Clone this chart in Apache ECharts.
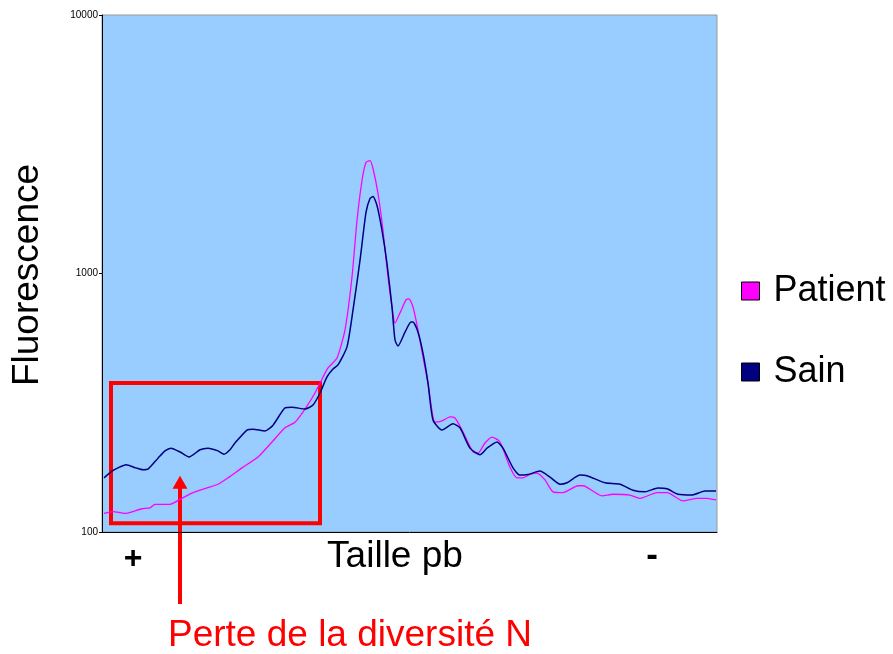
<!DOCTYPE html>
<html>
<head>
<meta charset="utf-8">
<script src="https://cdn.jsdelivr.net/npm/echarts@6/dist/echarts.min.js"></script>
<style>
  html, body { margin: 0; padding: 0; background: #fff; }
  #chart { width: 893px; height: 654px; }
</style>
</head>
<body>
<div id="chart"></div>
<script>
// Position along the size axis (arbitrary units, large fragments on the left)
const sainX = [1, 5, 8, 12, 17, 20.5, 23, 28, 31.5, 34.5, 39, 43.5, 49, 53, 58, 61, 64, 66.5, 72.5, 75.5,
  81.5, 85.5, 91.5, 95, 101.5, 105.5, 109, 112.5, 115.5, 118, 122.5, 125.5, 129, 132, 134, 135.5, 137.5, 140,
  142.5, 145, 146.5, 148, 151.5, 154.5, 155.5, 158, 160.5, 163, 165.5, 170, 175.5, 179, 184, 189, 192.5,
  197.5, 200.5, 205.5, 209, 213, 219, 224, 229, 232.5, 239, 242.5, 251.5, 259, 265.5, 271.5, 278, 282.5,
  288, 295, 301.5, 307];
// Fluorescence, healthy control
const sainY = [162, 172, 177, 182, 177, 174, 175, 193, 206, 211, 204, 195, 208, 211, 206, 200, 208, 221, 248, 250,
  246, 259, 302, 304, 299, 310, 345, 398, 427, 443, 520, 722, 1123, 1722, 1950, 1986, 1833, 1467,
  1093, 742, 553, 524, 593, 649, 649, 593, 492, 377, 271, 248, 262, 253, 211, 199, 211,
  223, 211, 177, 166, 167, 172, 163, 153, 155, 166, 165, 155, 153, 145, 143, 148, 147,
  140, 139, 144, 144];

const patientX = [1, 5.5, 11.5, 15.5, 20, 24, 26.5, 34, 40, 45.5, 52.5, 58, 63, 70, 78, 85, 91.5, 96.5, 101.5,
  106.5, 109, 113, 117.5, 121.5, 125, 127.5, 130, 132, 134, 135.5, 138, 140.5, 143, 145, 146.5, 149, 152,
  153.5, 155.5, 158, 160.5, 163, 166.5, 170, 174, 176.5, 180, 185.5, 188, 191.5, 195, 199, 204, 207.5,
  210.5, 214, 217.5, 221.5, 225.5, 230.5, 238, 240.5, 250, 255.5, 264, 269, 277.5, 282.5, 290.5, 297.5,
  302.5, 307];
// Fluorescence, patient
const patientY = [118, 120, 118, 120, 123, 124, 128, 128, 135, 142, 148, 153, 162, 177, 195, 223, 253, 266, 299,
  345, 377, 431, 471, 605, 969, 1603, 2290, 2688, 2735, 2548, 2039, 1467, 969, 742, 643, 704, 790,
  797, 742, 605, 475, 377, 266, 269, 279, 276, 248, 204, 202, 221, 233, 223, 178, 162,
  162, 167, 169, 159, 143, 142, 151, 151, 138, 140, 139, 135, 142, 142, 132, 135,
  135, 133];

// Fluorescence axis ticks
const yTicks = [100, 1000, 10000];

// Highlighted region of lost N diversity (x range, fluorescence range)
const boxX = [4.5, 109];
const boxY = [108, 377];
// Arrow pointing into the highlighted region
const arrowX = 39;
const arrowTipY = 165;

const FONT = 'Liberation Sans, Arial, sans-serif';

const pairs = (xs, ys) => xs.map((x, i) => [x, ys[i]]);

const chart = echarts.init(document.getElementById('chart'), null, { renderer: 'canvas' });

chart.setOption({
  animation: false,
  backgroundColor: '#ffffff',
  grid: {
    left: 102, top: 15, right: 176, bottom: 122,
    show: true, backgroundColor: '#99CCFF', borderColor: '#999999', borderWidth: 1
  },
  legend: {
    orient: 'vertical', left: 736, top: 268,
    itemWidth: 18, itemHeight: 18, itemGap: 45,
    icon: 'rect',
    itemStyle: { borderColor: '#000', borderWidth: 1 },
    textStyle: { fontSize: 36, fontFamily: FONT, color: '#000', lineHeight: 36, padding: [0, 0, 0, 9] },
    data: ['Patient', 'Sain']
  },
  xAxis: {
    type: 'value', min: 0, max: 307.5,
    axisLine: { show: true, lineStyle: { color: '#000', width: 1 } },
    axisTick: { show: false }, axisLabel: { show: false }, splitLine: { show: false }
  },
  yAxis: {
    type: 'log', logBase: 10, min: yTicks[0], max: yTicks[yTicks.length - 1],
    axisLine: { show: true, lineStyle: { color: '#000', width: 1 } },
    axisTick: { show: true, length: 3, lineStyle: { color: '#000' } },
    axisLabel: { fontSize: 10, fontFamily: FONT, color: '#000', margin: 4, formatter: v => String(Math.round(v)) },
    splitLine: { show: false }, minorTick: { show: false }
  },
  series: [
    {
      name: 'Patient', type: 'line', data: pairs(patientX, patientY),
      symbol: 'none', smooth: 0.2,
      itemStyle: { color: '#FF00FF' },
      lineStyle: { color: '#FF00FF', width: 1.3 },
      markArea: {
        silent: true,
        itemStyle: { color: 'rgba(0,0,0,0)', borderColor: '#FF0000', borderWidth: 4 },
        data: [[{ coord: [boxX[0], boxY[1]] }, { coord: [boxX[1], boxY[0]] }]]
      }
    },
    {
      name: 'Sain', type: 'line', data: pairs(sainX, sainY),
      symbol: 'none', smooth: 0.2,
      itemStyle: { color: '#000080' },
      lineStyle: { color: '#000080', width: 1.5 }
    }
  ]
});

// Annotations: axis titles, direction marks and the arrow
const ax = chart.convertToPixel({ gridIndex: 0 }, [arrowX, arrowTipY]);
const tipX = ax[0], tipY = ax[1];

chart.setOption({
  graphic: [
    { type: 'text', x: 28, y: 275, rotation: Math.PI / 2,
      style: { text: 'Fluorescence', font: '37px ' + FONT, fill: '#000', textAlign: 'center', textVerticalAlign: 'middle' } },
    { type: 'text', x: 395, y: 557,
      style: { text: 'Taille pb', font: '37px ' + FONT, fill: '#000', textAlign: 'center', textVerticalAlign: 'middle' } },
    { type: 'text', x: 133, y: 559,
      style: { text: '+', font: 'bold 32px ' + FONT, fill: '#000', textAlign: 'center', textVerticalAlign: 'middle' } },
    { type: 'text', x: 652, y: 556,
      style: { text: '-', font: 'bold 35px ' + FONT, fill: '#000', textAlign: 'center', textVerticalAlign: 'middle' } },
    { type: 'text', x: 350, y: 636,
      style: { text: 'Perte de la diversité N', font: '37px ' + FONT, fill: '#FF0000', textAlign: 'center', textVerticalAlign: 'middle' } },
    { type: 'line', shape: { x1: tipX, y1: tipY + 10, x2: tipX, y2: 604 },
      style: { stroke: '#FF0000', lineWidth: 4 } },
    { type: 'polygon', shape: { points: [[tipX, tipY], [tipX - 7.5, tipY + 13], [tipX + 7.5, tipY + 13]] },
      style: { fill: '#FF0000' } }
  ]
});
</script>
</body>
</html>
